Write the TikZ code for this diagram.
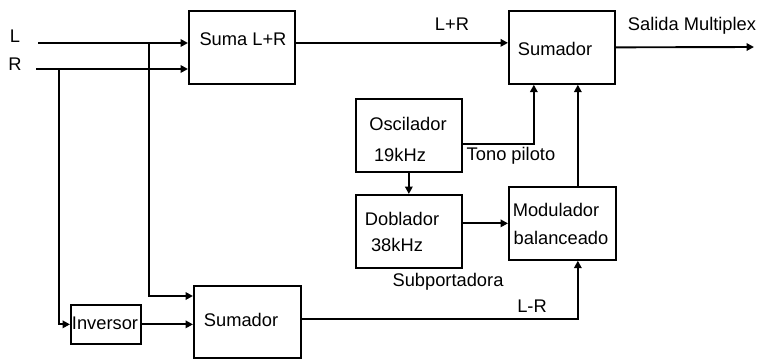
\documentclass[tikz,border=0pt]{standalone}
\usepackage{fontspec}
\setmainfont{Liberation Sans}
\usetikzlibrary{arrows.meta}
\begin{document}
\begin{tikzpicture}[x=1pt,y=-1pt,
  blk/.style={draw, line width=1.7pt, inner sep=0pt, anchor=north west},
  lbl/.style={inner sep=0pt, font=\fontsize{18.3}{20}\selectfont},
  wire/.style={line width=1.9pt},
  arr/.style={wire, -{Triangle[length=7.5pt,width=7.5pt]}}]
\useasboundingbox (0,0) rectangle (757,359);
% boxes
\node[blk, minimum width=106pt, minimum height=73pt] (suma) at (188,10) {};
\node[blk, minimum width=106pt, minimum height=73pt] (sum1) at (508,10) {};
\node[blk, minimum width=106pt, minimum height=73pt] (osc) at (355,98) {};
\node[blk, minimum width=106pt, minimum height=73pt] (dob) at (355,194) {};
\node[blk, minimum width=107pt, minimum height=73pt] (mod) at (508,186) {};
\node[blk, minimum width=70pt, minimum height=39pt] (inv) at (70,304) {};
\node[blk, minimum width=107pt, minimum height=72pt] (sum2) at (193,285) {};
% texts
\node[lbl] (tL) at (15,36) {L};
\node[lbl] (tR) at (15,64) {R};
\node[lbl] (tsuma) at (243,39) {Suma L+R};
\node[lbl] (tlr) at (452,24) {L+R};
\node[lbl] (tsum1) at (555,49) {Sumador};
\node[lbl] (tout) at (692,26) {Salida Multiplex};
\node[lbl] (tosc1) at (408,124) {Oscilador};
\node[lbl] (tosc2) at (400,155) {19kHz};
\node[lbl] (ttono) at (511,156) {Tono piloto};
\node[lbl] (tdob1) at (402,219) {Doblador};
\node[lbl] (tdob2) at (397,245) {38kHz};
\node[lbl] (tmod1) at (556,210) {Modulador};
\node[lbl] (tmod2) at (561,238) {balanceado};
\node[lbl] (tsub) at (448,282) {Subportadora};
\node[lbl] (tinv) at (105,323) {Inversor};
\node[lbl] (tsum2) at (241,320) {Sumador};
\node[lbl] (tlmr) at (532,306) {L-R};
% coordinates
\coordinate (Lin) at (38,43);
\coordinate (Rin) at (36,69);
\coordinate (Lb) at (149,43);
\coordinate (Ld) at (149,296);
\coordinate (Rb) at (59,69);
\coordinate (out) at (754,47);
% connectors
\draw[arr] (Lin) -- (Lin -| suma.west);
\draw[arr] (Rin) -- (Rin -| suma.west);
\draw[arr] (Lb) -- (Ld) -- (Ld -| sum2.west);
\draw[arr] (Rb) |- (inv.west);
\draw[arr] (inv.east) -- (inv.east -| sum2.west);
\draw[arr] ([yshift=4.5pt]suma.east) -- ([yshift=4.5pt]suma.east -| sum1.west);
\draw[arr] (sum1.east) -- (out);
\draw[arr] ([yshift=-8.5pt]osc.east) -| ([xshift=-28pt]sum1.south);
\draw[arr] ([xshift=15.5pt]mod.north) -- ([xshift=15.5pt]mod.north |- sum1.south);
\draw[arr] (osc.south) -- (dob.north);
\draw[arr] (dob.east |- mod.west) -- (mod.west);
\draw[arr] ([yshift=2.5pt]sum2.east) -| ([xshift=15.5pt]mod.south);
\end{tikzpicture}
\end{document}
